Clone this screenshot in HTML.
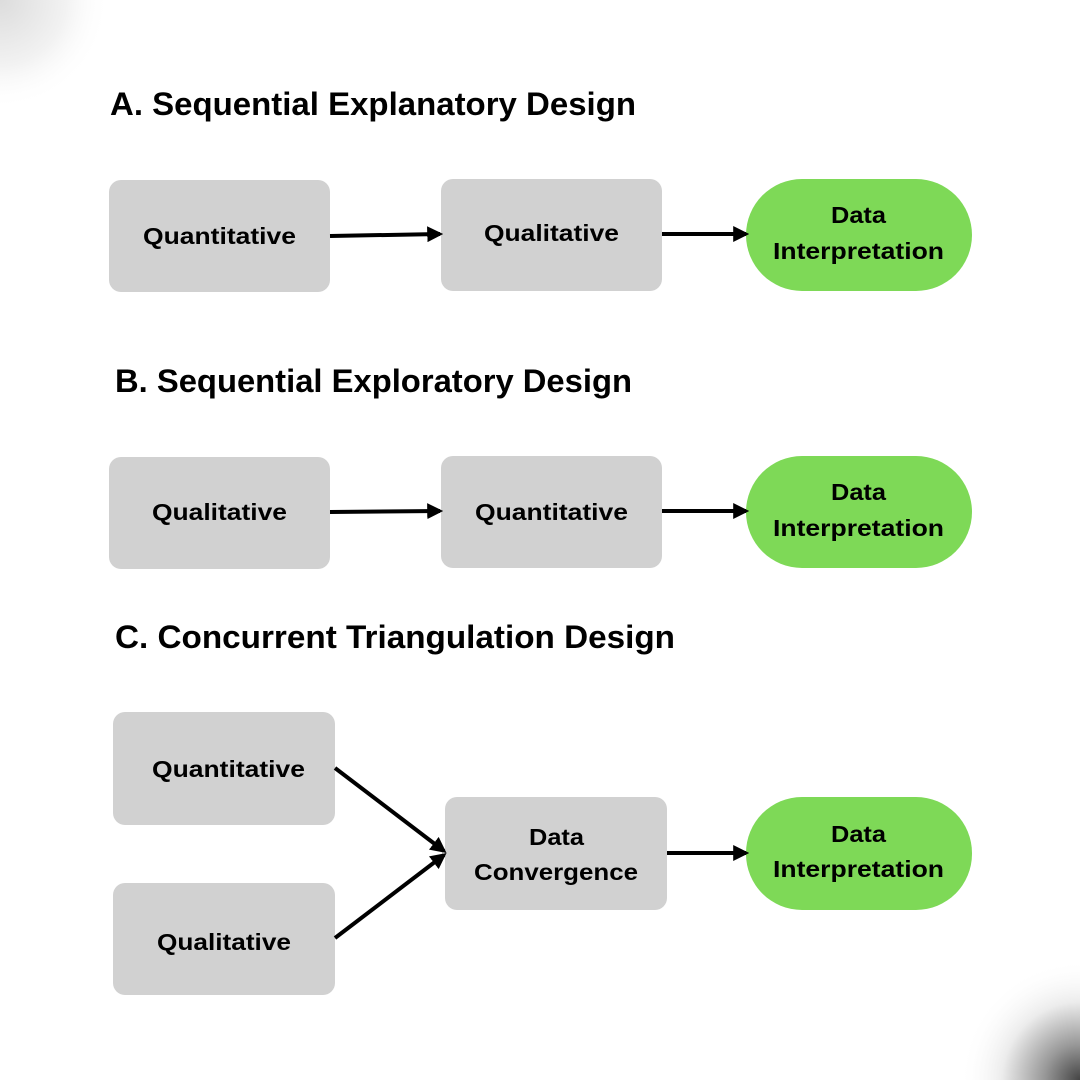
<!DOCTYPE html>
<html><head><style>
html,body{margin:0;padding:0;background:#fff}
svg{display:block}
text{font-family:"Liberation Sans",Arial,sans-serif;font-weight:bold;fill:#000}
</style></head><body>
<svg width="1080" height="1080" viewBox="0 0 1080 1080" xmlns="http://www.w3.org/2000/svg">
<defs>
<radialGradient id="tl" cx="0" cy="0" r="110" gradientUnits="userSpaceOnUse">
<stop offset="0" stop-color="#dcdcdc"/><stop offset="0.6" stop-color="#f2f2f2"/><stop offset="1" stop-color="#fff" stop-opacity="0"/>
</radialGradient>
<radialGradient id="br" cx="1080" cy="1080" r="120" gradientUnits="userSpaceOnUse">
<stop offset="0" stop-color="#444"/><stop offset="0.3" stop-color="#999"/><stop offset="0.65" stop-color="#ececec"/><stop offset="1" stop-color="#fff" stop-opacity="0"/>
</radialGradient>
<marker id="ah" markerWidth="4" markerHeight="4" refX="3.2" refY="2" orient="auto" markerUnits="strokeWidth">
<path d="M0,0 L4,2 L0,4 Z" fill="#000"/>
</marker>
</defs>
<rect width="1080" height="1080" fill="#fff"/>
<rect width="140" height="140" fill="url(#tl)"/>
<rect x="940" y="940" width="140" height="140" fill="url(#br)"/>

<g font-size="32" lengthAdjust="spacingAndGlyphs">
<text x="110" y="115" textLength="526" lengthAdjust="spacingAndGlyphs">A. Sequential Explanatory Design</text>
<text x="115" y="392" textLength="517" lengthAdjust="spacingAndGlyphs">B. Sequential Exploratory Design</text>
<text x="115" y="648" textLength="560" lengthAdjust="spacingAndGlyphs">C. Concurrent Triangulation Design</text>
</g>

<g fill="#d1d1d1">
<rect x="109" y="180" width="221" height="112" rx="12"/>
<rect x="441" y="179" width="221" height="112" rx="12"/>
<rect x="109" y="457" width="221" height="112" rx="12"/>
<rect x="441" y="456" width="221" height="112" rx="12"/>
<rect x="113" y="712" width="222" height="113" rx="12"/>
<rect x="113" y="883" width="222" height="112" rx="12"/>
<rect x="445" y="797" width="222" height="113" rx="12"/>
</g>
<g fill="#7ed957">
<rect x="746" y="179" width="226" height="112" rx="56"/>
<rect x="746" y="456" width="226" height="112" rx="56"/>
<rect x="746" y="797" width="226" height="113" rx="56"/>
</g>

<g font-size="23">
<text x="143" y="244" textLength="153" lengthAdjust="spacingAndGlyphs">Quantitative</text>
<text x="484" y="241" textLength="135" lengthAdjust="spacingAndGlyphs">Qualitative</text>
<text x="831" y="223" textLength="55" lengthAdjust="spacingAndGlyphs">Data</text>
<text x="773" y="259" textLength="171" lengthAdjust="spacingAndGlyphs">Interpretation</text>
<text x="152" y="520" textLength="135" lengthAdjust="spacingAndGlyphs">Qualitative</text>
<text x="475" y="520" textLength="153" lengthAdjust="spacingAndGlyphs">Quantitative</text>
<text x="831" y="500" textLength="55" lengthAdjust="spacingAndGlyphs">Data</text>
<text x="773" y="536" textLength="171" lengthAdjust="spacingAndGlyphs">Interpretation</text>
<text x="152" y="777" textLength="153" lengthAdjust="spacingAndGlyphs">Quantitative</text>
<text x="157" y="950" textLength="134" lengthAdjust="spacingAndGlyphs">Qualitative</text>
<text x="529" y="845" textLength="55" lengthAdjust="spacingAndGlyphs">Data</text>
<text x="474" y="880" textLength="164" lengthAdjust="spacingAndGlyphs">Convergence</text>
<text x="831" y="842" textLength="55" lengthAdjust="spacingAndGlyphs">Data</text>
<text x="773" y="877" textLength="171" lengthAdjust="spacingAndGlyphs">Interpretation</text>
</g>

<g stroke="#000" stroke-width="4" fill="none" marker-end="url(#ah)">
<line x1="330" y1="236" x2="440" y2="234"/>
<line x1="662" y1="234" x2="746" y2="234"/>
<line x1="330" y1="512" x2="440" y2="511"/>
<line x1="662" y1="511" x2="746" y2="511"/>
<line x1="335" y1="768" x2="444" y2="851"/>
<line x1="335" y1="938" x2="444" y2="855"/>
<line x1="667" y1="853" x2="746" y2="853"/>
</g>
</svg>
</body></html>
